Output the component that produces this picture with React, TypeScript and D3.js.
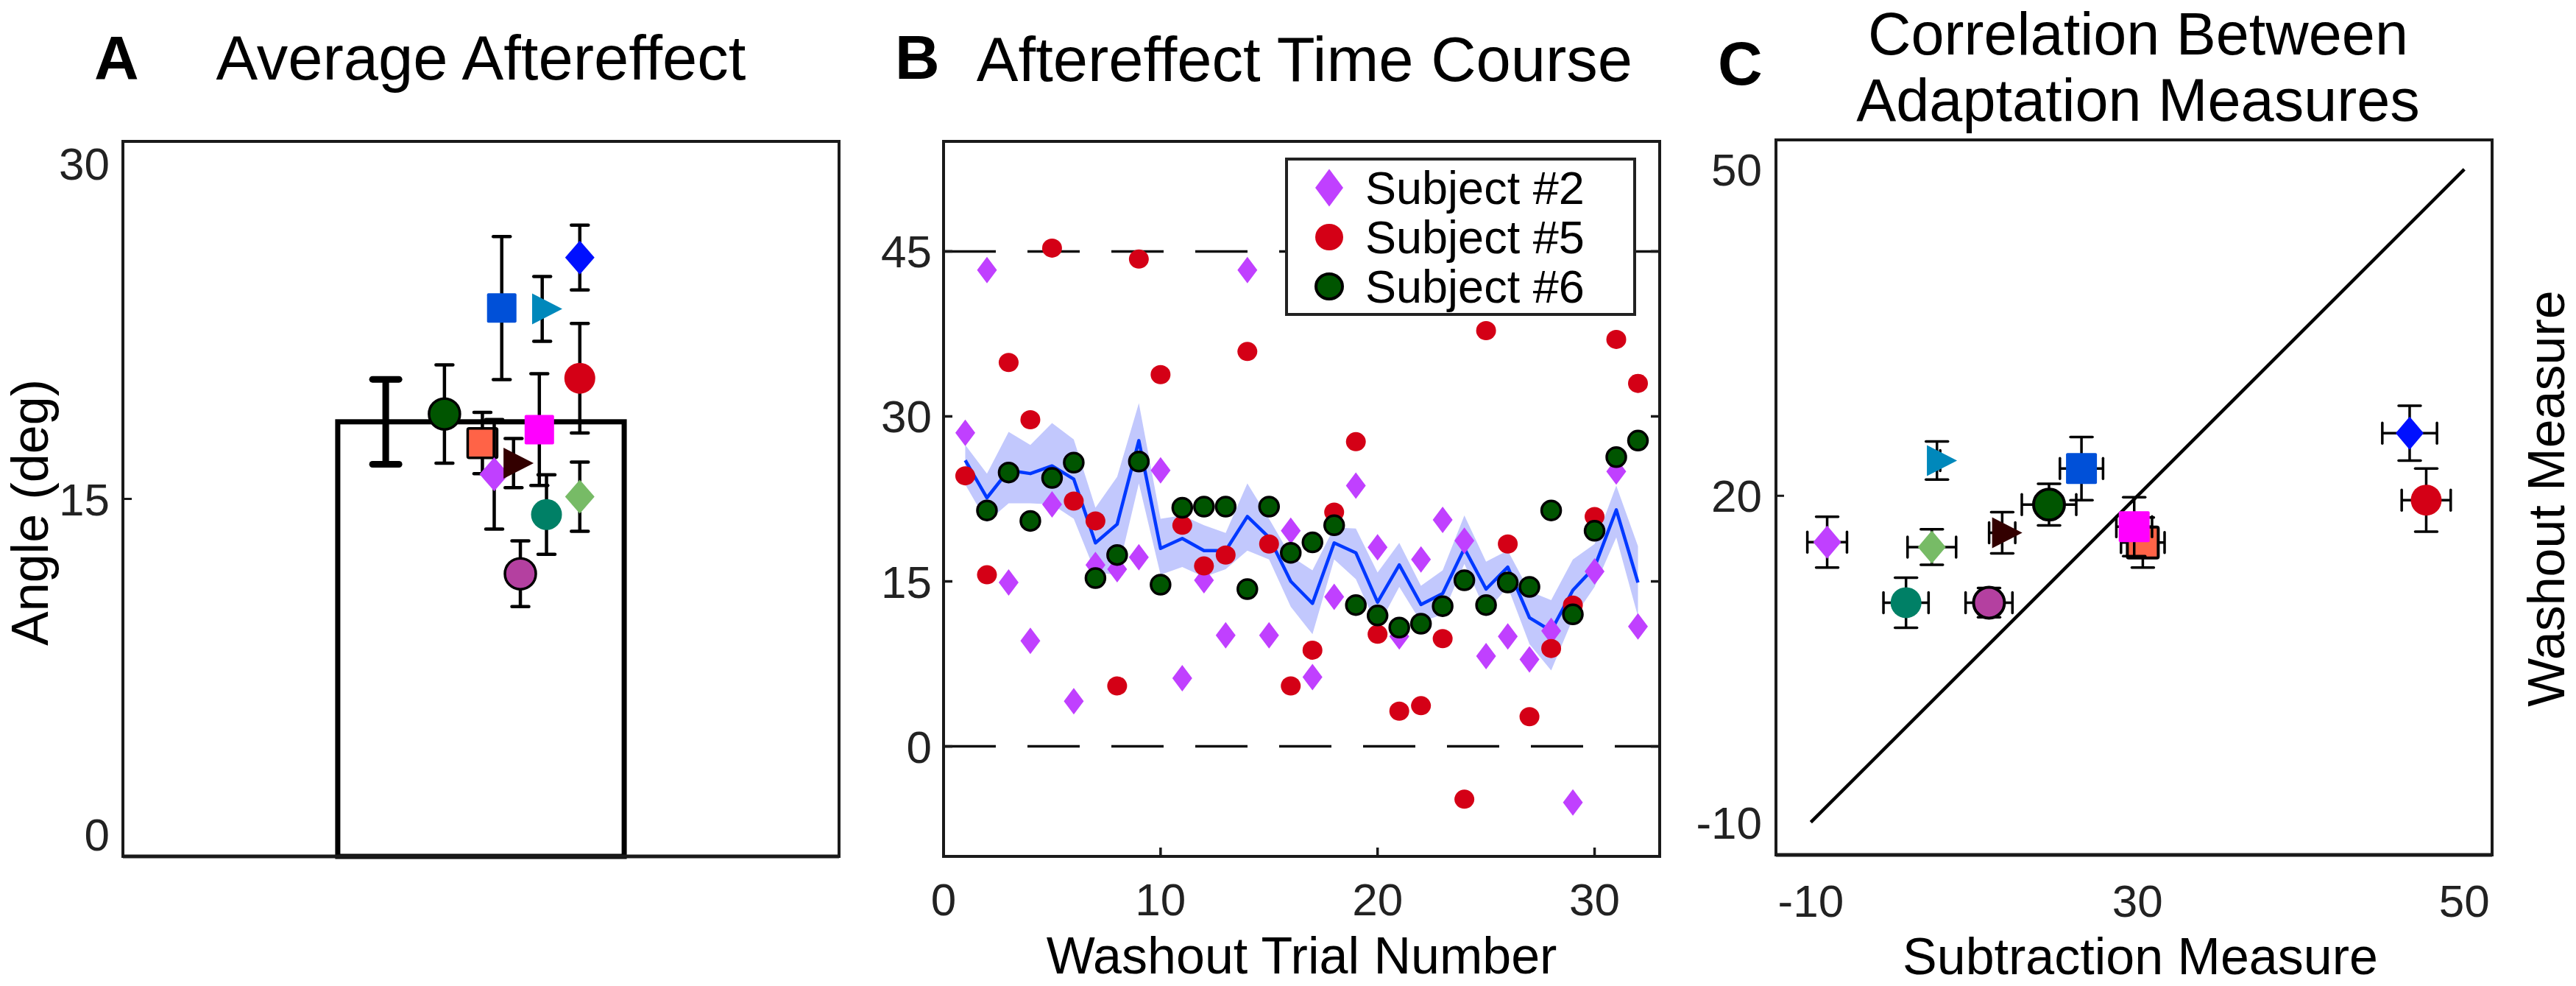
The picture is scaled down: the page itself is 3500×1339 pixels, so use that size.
import React from 'react';
import * as d3 from 'd3';

const FONT = '"Liberation Sans", Arial, Helvetica, sans-serif';
const AX = '#1a1a1a';

// ---------- subjects (shared style across panels A and C) ----------
const subjectShapes = ['square', 'diamond', 'triangle', 'diamond', 'circle', 'circle', 'square', 'triangle', 'square', 'circle', 'diamond', 'circle'];
const subjectColors = ['#0050D8', '#C040FF', '#0088BB', '#0010FF', '#D40016', '#005500', '#FF6347', '#330000', '#FF00FF', '#008066', '#77BB66', '#B440A0'];
const subjectOutlined = [false, false, false, false, false, true, true, false, false, false, false, true];

// ---------- panel A: average aftereffect ----------
const barValue = 18.45;
const barErr = 1.9;
const barErrX = 0.734;
const aJitterX = [1.058, 1.037, 1.171, 1.276, 1.276, 0.898, 1.004, 1.091, 1.163, 1.183, 1.276, 1.11];
const aMean = [23.54, 16.1, 23.5, 25.8, 20.4, 18.8, 17.5, 16.6, 18.1, 14.3, 15.1, 11.65];
const aErr = [3.2, 2.45, 1.45, 1.45, 2.45, 2.2, 1.37, 1.1, 2.5, 1.78, 1.55, 1.47];
const aYTicks = [0, 15, 30];

// ---------- panel B: aftereffect time course ----------
const trials = d3.range(1, 33);
const subj2 = [28.5, 43.3, 14.9, 9.6, 22.0, 4.1, 16.5, 16.1, 17.2, 25.1, 6.2, 15.1, 10.1, 43.3, 10.1, 19.6, 6.3, 13.6, 23.7, 18.1, 10.0, 17.0, 20.6, 18.7, 8.2, 10.0, 7.9, 10.5, -5.1, 15.9, 25.0, 10.9];
const subj5 = [24.6, 15.6, 34.9, 29.7, 45.3, 22.3, 20.5, 5.5, 44.3, 33.8, 20.1, 16.4, 17.4, 35.9, 18.4, 5.5, 8.75, 21.3, 27.7, 10.2, 3.2, 3.7, 9.8, -4.8, 37.8, 18.4, 2.7, 8.9, 12.85, 20.9, 37.0, 33.0];
const subj6Trials = d3.range(2, 33);
const subj6 = [21.45, 24.9, 20.5, 24.4, 25.8, 15.3, 17.4, 25.9, 14.7, 21.7, 21.8, 21.8, 14.3, 21.8, 17.6, 18.55, 20.1, 12.85, 11.9, 10.8, 11.15, 12.75, 15.1, 12.85, 14.9, 14.5, 21.45, 12.0, 19.6, 26.3, 27.8];
const meanCourse = [26.0, 22.6, 25.1, 24.8, 25.5, 24.3, 18.5, 20.2, 27.8, 18.0, 18.9, 17.8, 17.8, 20.9, 19.0, 15.0, 13.0, 18.5, 17.6, 13.1, 16.5, 12.9, 13.9, 18.0, 14.3, 16.3, 11.7, 10.5, 14.2, 16.3, 21.5, 14.9];
const bandUpper = [27.4, 24.8, 28.6, 27.4, 29.4, 27.9, 21.7, 24.5, 31.2, 20.7, 21.0, 20.1, 19.4, 23.9, 20.7, 17.3, 16.0, 19.9, 19.8, 15.8, 18.5, 14.6, 16.0, 21.0, 16.8, 17.8, 14.1, 13.3, 17.0, 18.4, 23.7, 18.2];
const bandLower = [23.8, 20.4, 22.1, 22.1, 22.0, 20.7, 15.8, 15.6, 23.9, 15.6, 16.3, 15.4, 16.1, 17.8, 17.0, 12.7, 10.2, 17.0, 15.2, 10.8, 14.5, 11.3, 12.0, 16.6, 12.2, 14.5, 9.3, 6.9, 11.6, 14.5, 19.0, 11.8];
const bYTicks = [0, 15, 30, 45];
const bXTicks = [0, 10, 20, 30];
const bDashedLevels = [45, 0];
const legendLabels = ['Subject #2', 'Subject #5', 'Subject #6'];

// ---------- panel C: correlation ----------
const cSubtraction = [14.85, -8.5, 1.58, 44.98, 46.5, 11.87, 20.48, 7.57, 19.69, -1.26, 1.11, 6.36];
const cSubtractionErr = [1.98, 1.82, 0.3, 2.51, 2.25, 2.5, 2.0, 1.2, 1.64, 2.07, 2.23, 2.15];
const cWashout = [22.5, 15.74, 23.24, 25.76, 19.6, 19.19, 15.7, 16.6, 17.16, 10.18, 15.29, 10.18];
const cWashoutErr = [2.9, 2.33, 1.75, 2.52, 2.9, 1.91, 2.3, 1.89, 2.7, 2.3, 1.63, 1.35];
const cDrawOrder = [1, 9, 10, 2, 7, 11, 5, 0, 6, 8, 3, 4];
const cYTicks = [-10, 20, 50];
const cXTickValues = [-10, 20, 50];
const cXTickLabels = ['-10', '30', '50'];
const identity = [-10, 50];

// ---------- scales ----------
const aX = d3.scaleLinear().domain([0, 2]).range([167, 1140]);
const aY = d3.scaleLinear().domain([-1, 31]).range([1163, 192]);
const bX = d3.scaleLinear().domain([0, 33]).range([1282, 2255]);
const bY = d3.scaleLinear().domain([-10, 55]).range([1163, 192]);
const cX = d3.scaleLinear().domain([-13.2, 52.55]).range([2413, 3386]);
const cY = d3.scaleLinear().domain([-13, 52.7]).range([1161, 190]);

type MP = { shape: string; x: number; y: number; w: number; h: number; fill: string; stroke?: string; sw?: number };
function Marker({ shape, x, y, w, h, fill, stroke = 'none', sw = 0 }: MP) {
  if (shape === 'circle') return <ellipse cx={x} cy={y} rx={w / 2} ry={h / 2} fill={fill} stroke={stroke} strokeWidth={sw} />;
  if (shape === 'square') return <rect x={x - w / 2} y={y - h / 2} width={w} height={h} rx={2} fill={fill} stroke={stroke} strokeWidth={sw} />;
  if (shape === 'diamond')
    return <polygon points={`${x},${y - h / 2} ${x + w / 2},${y} ${x},${y + h / 2} ${x - w / 2},${y}`} fill={fill} stroke={stroke} strokeWidth={sw} strokeLinejoin="round" />;
  const l = x - w / 3, r = x + (2 * w) / 3;
  return <polygon points={`${l},${y - h / 2} ${r},${y} ${l},${y + h / 2}`} fill={fill} stroke={stroke} strokeWidth={sw} strokeLinejoin="round" />;
}

function VErr({ x, y0, y1, cap, sw }: { x: number; y0: number; y1: number; cap: number; sw: number }) {
  return (
    <g stroke="#000" strokeWidth={sw} strokeLinecap="round">
      <line x1={x} x2={x} y1={y0} y2={y1} strokeLinecap="butt" />
      <line x1={x - cap / 2} x2={x + cap / 2} y1={y0} y2={y0} />
      <line x1={x - cap / 2} x2={x + cap / 2} y1={y1} y2={y1} />
    </g>
  );
}
function HErr({ y, x0, x1, cap, sw }: { y: number; x0: number; x1: number; cap: number; sw: number }) {
  return (
    <g stroke="#000" strokeWidth={sw} strokeLinecap="round">
      <line x1={x0} x2={x1} y1={y} y2={y} strokeLinecap="butt" />
      <line x1={x0} x2={x0} y1={y - cap / 2} y2={y + cap / 2} />
      <line x1={x1} x2={x1} y1={y - cap / 2} y2={y + cap / 2} />
    </g>
  );
}

const sizeA: Record<string, [number, number]> = { square: [40, 40], circle: [42, 42], diamond: [40, 46], triangle: [41, 42] };
const sizeC: Record<string, [number, number]> = { square: [42, 42], circle: [42, 42], diamond: [38, 45], triangle: [41, 42] };

const TICK_FS = 62;
const LABEL_FS = 70;
const TITLE_FS = 85;
const TITLE_C_FS = 81;
const LETTER_FS = 84;

export default function App() {
  const area = d3
    .area<number>()
    .x((_, i) => bX(trials[i]))
    .y0((_, i) => bY(bandLower[i]))
    .y1((_, i) => bY(bandUpper[i]));
  const line = d3
    .line<number>()
    .x((_, i) => bX(trials[i]))
    .y((d) => bY(d));

  const aOrder = [0, 2, 3, 4, 5, 6, 1, 7, 8, 9, 10, 11];

  return (
    <svg width={3500} height={1339} viewBox="0 0 3500 1339" style={{ position: 'absolute', left: 0, top: 0, background: '#fff' }} fontFamily={FONT}>
      <rect x={0} y={0} width={3500} height={1339} fill="#fff" />

      {/* ================= Panel A ================= */}
      <text x={128} y={108} fontSize={LETTER_FS} fontWeight="bold">A</text>
      <text x={(aX(0) + aX(2)) / 2} y={108} fontSize={TITLE_FS} textAnchor="middle">Average Aftereffect</text>
      <rect
        x={aX(1 - 0.4)}
        y={aY(barValue)}
        width={aX(1.4) - aX(0.6)}
        height={aY(-1) - aY(barValue)}
        fill="#fff"
        stroke="#000"
        strokeWidth={7}
      />
      <VErr x={aX(barErrX)} y0={aY(barValue + barErr)} y1={aY(barValue - barErr)} cap={36} sw={9} />
      {aOrder.map((i) => {
        const [w, h] = sizeA[subjectShapes[i]];
        return (
          <g key={'a' + i}>
            <VErr x={aX(aJitterX[i])} y0={aY(aMean[i] + aErr[i])} y1={aY(aMean[i] - aErr[i])} cap={23} sw={4.5} />
            <Marker
              shape={subjectShapes[i]}
              x={aX(aJitterX[i])}
              y={aY(aMean[i])}
              w={w}
              h={h}
              fill={subjectColors[i]}
              stroke={subjectOutlined[i] ? '#000' : 'none'}
              sw={subjectOutlined[i] ? 3.5 : 0}
            />
          </g>
        );
      })}
      <rect x={aX(0)} y={aY(31)} width={aX(2) - aX(0)} height={aY(-1) - aY(31)} fill="none" stroke={AX} strokeWidth={4} />
      <line x1={aX(0)} x2={aX(2)} y1={aY(-1)} y2={aY(-1)} stroke={AX} strokeWidth={5} />
      <line x1={aX(0)} x2={aX(0) + 12} y1={aY(15)} y2={aY(15)} stroke={AX} strokeWidth={3} />
      {aYTicks.map((t) => (
        <text key={'ay' + t} x={aX(0) - 18} y={aY(t) + 22} fontSize={TICK_FS} textAnchor="end" fill="#222">{t}</text>
      ))}
      <text transform={`translate(65,696) rotate(-90)`} fontSize={LABEL_FS} textAnchor="middle">Angle (deg)</text>

      {/* ================= Panel B ================= */}
      <text x={1216} y={107} fontSize={LETTER_FS} fontWeight="bold">B</text>
      <text x={(bX(0) + bX(33)) / 2 + 4} y={110} fontSize={TITLE_FS} textAnchor="middle">Aftereffect Time Course</text>
      {bDashedLevels.map((lv) => (
        <line key={'dl' + lv} x1={bX(0)} x2={bX(33)} y1={bY(lv)} y2={bY(lv)} stroke="#111" strokeWidth={3.5} strokeDasharray="71 43" />
      ))}
      <path d={area(meanCourse) || ''} fill="#c2c8fd" stroke="none" />
      <path d={line(meanCourse) || ''} fill="none" stroke="#0038ff" strokeWidth={4.5} strokeLinejoin="round" />
      {subj2.map((v, i) => (
        <Marker key={'s2' + i} shape="diamond" x={bX(trials[i])} y={bY(v)} w={27} h={36} fill="#C040FF" />
      ))}
      {subj5.map((v, i) => (
        <Marker key={'s5' + i} shape="circle" x={bX(trials[i])} y={bY(v)} w={27} h={26} fill="#D40016" />
      ))}
      {subj6.map((v, i) => (
        <Marker key={'s6' + i} shape="circle" x={bX(subj6Trials[i])} y={bY(v)} w={26} h={26} fill="#005500" stroke="#000" sw={3.5} />
      ))}
      {/* legend */}
      <rect x={1748} y={216} width={473} height={211} fill="#fff" stroke="#222" strokeWidth={4} />
      {legendLabels.map((lab, i) => {
        const cy = 255 + i * 67;
        return (
          <g key={'lg' + i}>
            {i === 0 && <Marker shape="diamond" x={1806} y={cy} w={38} h={51} fill="#C040FF" />}
            {i === 1 && <Marker shape="circle" x={1806} y={cy} w={38} h={36} fill="#D40016" />}
            {i === 2 && <Marker shape="circle" x={1806} y={cy} w={36} h={34} fill="#005500" stroke="#000" sw={4} />}
            <text x={1855} y={cy + 22} fontSize={63}>{lab}</text>
          </g>
        );
      })}
      <rect x={bX(0)} y={bY(55)} width={bX(33) - bX(0)} height={bY(-10) - bY(55)} fill="none" stroke={AX} strokeWidth={4} />
      {bYTicks.map((t) => (
        <g key={'by' + t}>
          <line x1={bX(0)} x2={bX(0) + 12} y1={bY(t)} y2={bY(t)} stroke={AX} strokeWidth={3.5} />
          <line x1={bX(33)} x2={bX(33) - 12} y1={bY(t)} y2={bY(t)} stroke={AX} strokeWidth={3.5} />
          <text x={bX(0) - 16} y={bY(t) + 22} fontSize={TICK_FS} textAnchor="end" fill="#222">{t}</text>
        </g>
      ))}
      {bXTicks.map((t) => (
        <g key={'bx' + t}>
          <line x1={bX(t)} x2={bX(t)} y1={bY(-10)} y2={bY(-10) - 12} stroke={AX} strokeWidth={3.5} />
          <text x={bX(t)} y={1243} fontSize={TICK_FS} textAnchor="middle" fill="#222">{t}</text>
        </g>
      ))}
      <text x={(bX(0) + bX(33)) / 2} y={1322} fontSize={LABEL_FS} textAnchor="middle">Washout Trial Number</text>

      {/* ================= Panel C ================= */}
      <text x={2334} y={115} fontSize={LETTER_FS} fontWeight="bold">C</text>
      <text x={2905} y={74} fontSize={TITLE_C_FS} textAnchor="middle">Correlation Between</text>
      <text x={2905} y={164} fontSize={TITLE_C_FS} textAnchor="middle">Adaptation Measures</text>
      <line x1={cX(identity[0])} y1={cY(identity[0])} x2={cX(identity[1])} y2={cY(identity[1])} stroke="#000" strokeWidth={4.5} />
      {cDrawOrder.map((i) => {
        const [w, h] = sizeC[subjectShapes[i]];
        const x = cX(cSubtraction[i]);
        const y = cY(cWashout[i]);
        return (
          <g key={'c' + i}>
            <VErr x={x} y0={cY(cWashout[i] + cWashoutErr[i])} y1={cY(cWashout[i] - cWashoutErr[i])} cap={30} sw={3.5} />
            <HErr y={y} x0={cX(cSubtraction[i] - cSubtractionErr[i])} x1={cX(cSubtraction[i] + cSubtractionErr[i])} cap={28} sw={3.5} />
            <Marker
              shape={subjectShapes[i]}
              x={x}
              y={y}
              w={w}
              h={h}
              fill={subjectColors[i]}
              stroke={subjectOutlined[i] ? '#000' : 'none'}
              sw={subjectOutlined[i] ? 4 : 0}
            />
          </g>
        );
      })}
      <rect x={cX(-13.2)} y={cY(52.7)} width={cX(52.55) - cX(-13.2)} height={cY(-13) - cY(52.7)} fill="none" stroke={AX} strokeWidth={4} />
      <line x1={cX(-13.2)} x2={cX(52.55)} y1={cY(-13)} y2={cY(-13)} stroke={AX} strokeWidth={5} />
      <line x1={cX(-13.2)} x2={cX(-13.2) + 11} y1={cY(20)} y2={cY(20)} stroke={AX} strokeWidth={3} />
      {cYTicks.map((t) => (
        <text key={'cy' + t} x={cX(-13.2) - 19} y={cY(t) + 22} fontSize={TICK_FS} textAnchor="end" fill="#222">{t}</text>
      ))}
      {cXTickValues.map((t, i) => (
        <text key={'cx' + t} x={cX(t)} y={1245} fontSize={TICK_FS} textAnchor="middle" fill="#222">{cXTickLabels[i]}</text>
      ))}
      <text x={2908} y={1323} fontSize={LABEL_FS} textAnchor="middle">Subtraction Measure</text>
      <text transform={`translate(3484,677) rotate(-90)`} fontSize={LABEL_FS} textAnchor="middle">Washout Measure</text>
    </svg>
  );
}
